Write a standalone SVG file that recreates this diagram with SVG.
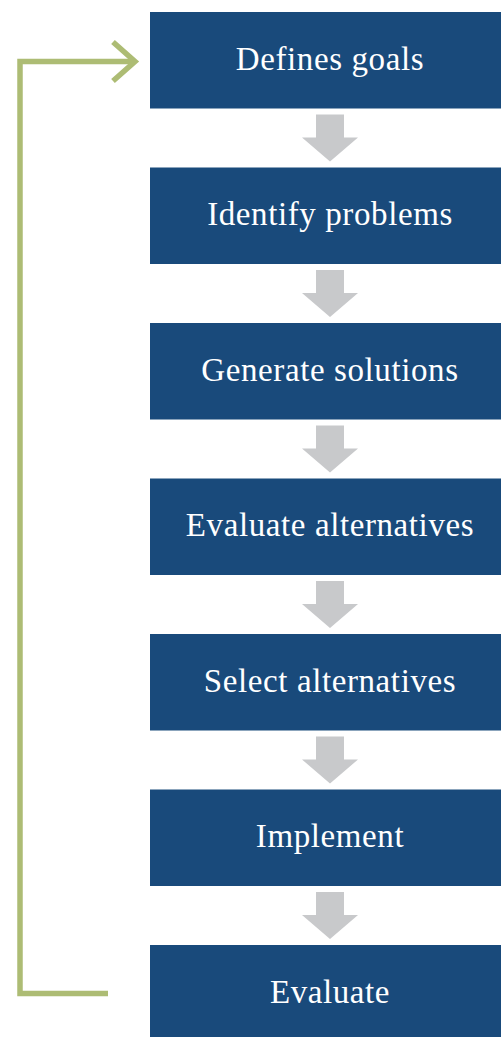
<svg xmlns="http://www.w3.org/2000/svg" width="501" height="1037" viewBox="0 0 501 1037">
<defs>
<style>
.box{fill:#194A7B}
.lbl{font-family:"Liberation Serif","Times New Roman",serif;font-size:33px;letter-spacing:0.6px;fill:#FFFFFF;text-anchor:middle}
.down{fill:#C8C9CB}
.loop{fill:none;stroke:#ADBC74;stroke-width:5.5}
</style>
</defs>
<rect width="501" height="1037" fill="#FFFFFF"/>
<g id="connectors">
<path class="down" d="M316,114.5H344V137.5H358L330,161.5L302,137.5H316Z"/>
<path class="down" d="M316,270H344V293H358L330,317L302,293H316Z"/>
<path class="down" d="M316,425.5H344V448.5H358L330,472.5L302,448.5H316Z"/>
<path class="down" d="M316,581H344V604H358L330,628L302,604H316Z"/>
<path class="down" d="M316,736.5H344V759.5H358L330,783.5L302,759.5H316Z"/>
<path class="down" d="M316,892H344V915H358L330,939L302,915H316Z"/>
<path class="loop" d="M108,993.5H20V61.5H135"/>
<path class="loop" d="M113,42L135,61.5L113,81"/>
</g>
<g id="n1"><rect class="box" x="150" y="12" width="360" height="96.5"/><text class="lbl" x="330" y="69.5">Defines goals</text></g>
<g id="n2"><rect class="box" x="150" y="167.5" width="360" height="96.5"/><text class="lbl" x="330" y="225">Identify problems</text></g>
<g id="n3"><rect class="box" x="150" y="323" width="360" height="96.5"/><text class="lbl" x="330" y="380.5">Generate solutions</text></g>
<g id="n4"><rect class="box" x="150" y="478.5" width="360" height="96.5"/><text class="lbl" x="330" y="536">Evaluate alternatives</text></g>
<g id="n5"><rect class="box" x="150" y="634" width="360" height="96.5"/><text class="lbl" x="330" y="691.5">Select alternatives</text></g>
<g id="n6"><rect class="box" x="150" y="789.5" width="360" height="96.5"/><text class="lbl" x="330" y="847">Implement</text></g>
<g id="n7"><rect class="box" x="150" y="945" width="360" height="96.5"/><text class="lbl" x="330" y="1002.5">Evaluate</text></g>
</svg>
